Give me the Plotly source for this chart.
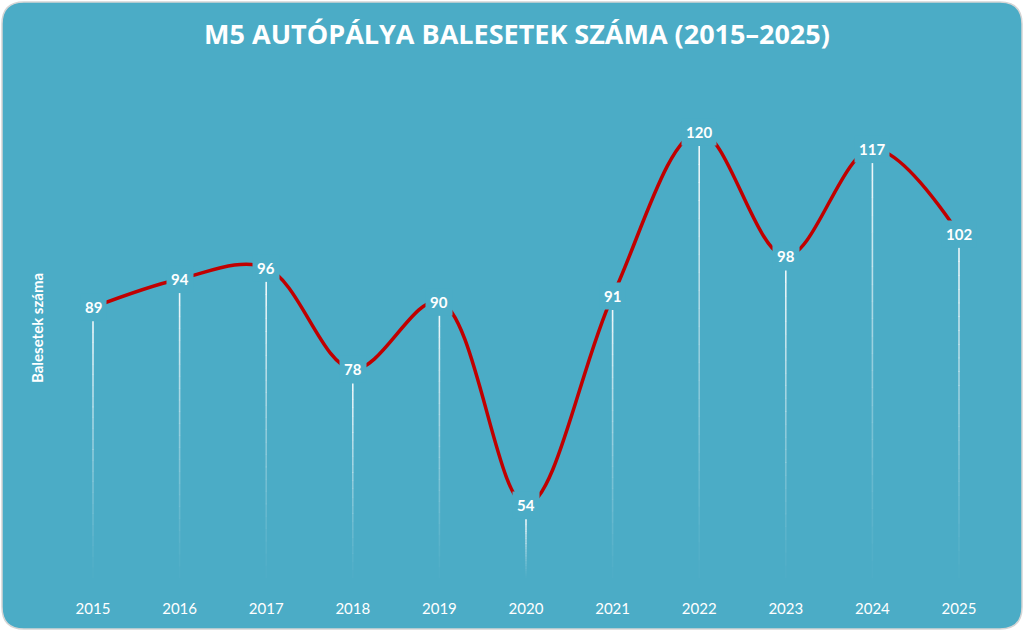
import plotly.graph_objects as go

# ---- data ----
years = [2015, 2016, 2017, 2018, 2019, 2020, 2021, 2022, 2023, 2024, 2025]
accidents = [89, 94, 96, 78, 90, 54, 91, 120, 98, 117, 102]
title_text = "M5 AUTÓPÁLYA BALESETEK SZÁMA (2015–2025)"
y_title = "Balesetek száma"

# ---- style ----
TEAL = "#4BACC6"
RED = "#C00000"
FONT = "Lato"
W, H = 1024, 631
ML, MR, MT, MB = 50, 40, 80, 41
Y_RANGE = [38.96, 129.2]
X_RANGE = [2014.5035, 2025.2887]
DROP_BOTTOM = 41.1   # where the fading drop lines end (axis value)
DROP_GAP = 2.5       # gap below label

fig = go.Figure()

# fading drop lines: split each line into N segments, opacity decreasing downward
N = 24
for k in range(N):
    xs, ys = [], []
    for yr, v in zip(years, accidents):
        top = v - DROP_GAP
        seg = (top - DROP_BOTTOM) / N
        y0 = top - k * seg
        y1 = top - (k + 1) * seg - 0.05
        xs += [yr, yr, None]
        ys += [y0, y1, None]
    op = 0.9 * (1 - k / N) ** 1.3
    fig.add_trace(go.Scatter(
        x=xs, y=ys, mode="lines",
        line=dict(color="white", width=1.6),
        opacity=op, hoverinfo="skip", showlegend=False))

# smoothed red line
fig.add_trace(go.Scatter(
    x=years, y=accidents, mode="lines",
    line=dict(color=RED, width=3.5, shape="spline", smoothing=1.0),
    hoverinfo="skip", showlegend=False))

# data labels with background hiding the line
for yr, v in zip(years, accidents):
    fig.add_annotation(
        x=yr, y=v, text=f"<b>{v}</b>", showarrow=False,
        font=dict(family=FONT, size=15, color="white"),
        bgcolor=TEAL, borderpad=4, xanchor="center", yanchor="middle")

# y axis title
fig.add_annotation(
    x=0, y=0.5137, xref="paper", yref="paper", xshift=-13,
    text=f"<b>{y_title}</b>", textangle=-90, showarrow=False,
    font=dict(family=FONT, size=15, color="white"),
    xanchor="center", yanchor="middle")

# rounded background panel (pixel coordinates relative to paper origin)
x0p, x1p = 2 - ML, W - 2 - ML
plot_bottom = H - MB
y_top = plot_bottom - 2
y_bot = plot_bottom - (H - 2)
r = 22
path = (f"M {x0p + r},{y_top} L {x1p - r},{y_top} "
        f"Q {x1p},{y_top} {x1p},{y_top - r} "
        f"L {x1p},{y_bot + r} Q {x1p},{y_bot} {x1p - r},{y_bot} "
        f"L {x0p + r},{y_bot} Q {x0p},{y_bot} {x0p},{y_bot + r} "
        f"L {x0p},{y_top - r} Q {x0p},{y_top} {x0p + r},{y_top} Z")
fig.add_shape(type="path", path=path, xref="paper", yref="paper",
              xsizemode="pixel", ysizemode="pixel", xanchor=0, yanchor=0,
              fillcolor=TEAL, line=dict(color="#D5D5D5", width=1.5),
              layer="below")

fig.update_layout(
    width=W, height=H, autosize=False,
    margin=dict(l=ML, r=MR, t=MT, b=MB),
    paper_bgcolor="white", plot_bgcolor="rgba(0,0,0,0)",
    title=dict(text=f"<b>{title_text}</b>", x=0.5, xref="paper",
               xanchor="center", y=1 - 35 / H, yanchor="middle",
               font=dict(family="Open Sans", size=27, color="white")),
    xaxis=dict(range=X_RANGE, tickvals=years, ticktext=[str(y) for y in years],
               showgrid=False, zeroline=False, showline=False,
               ticks="outside", ticklen=5, tickcolor="rgba(0,0,0,0)",
               tickfont=dict(family=FONT, size=15, color="white")),
    yaxis=dict(range=Y_RANGE, visible=False, showgrid=False, zeroline=False),
)

fig.write_html("out.html")
